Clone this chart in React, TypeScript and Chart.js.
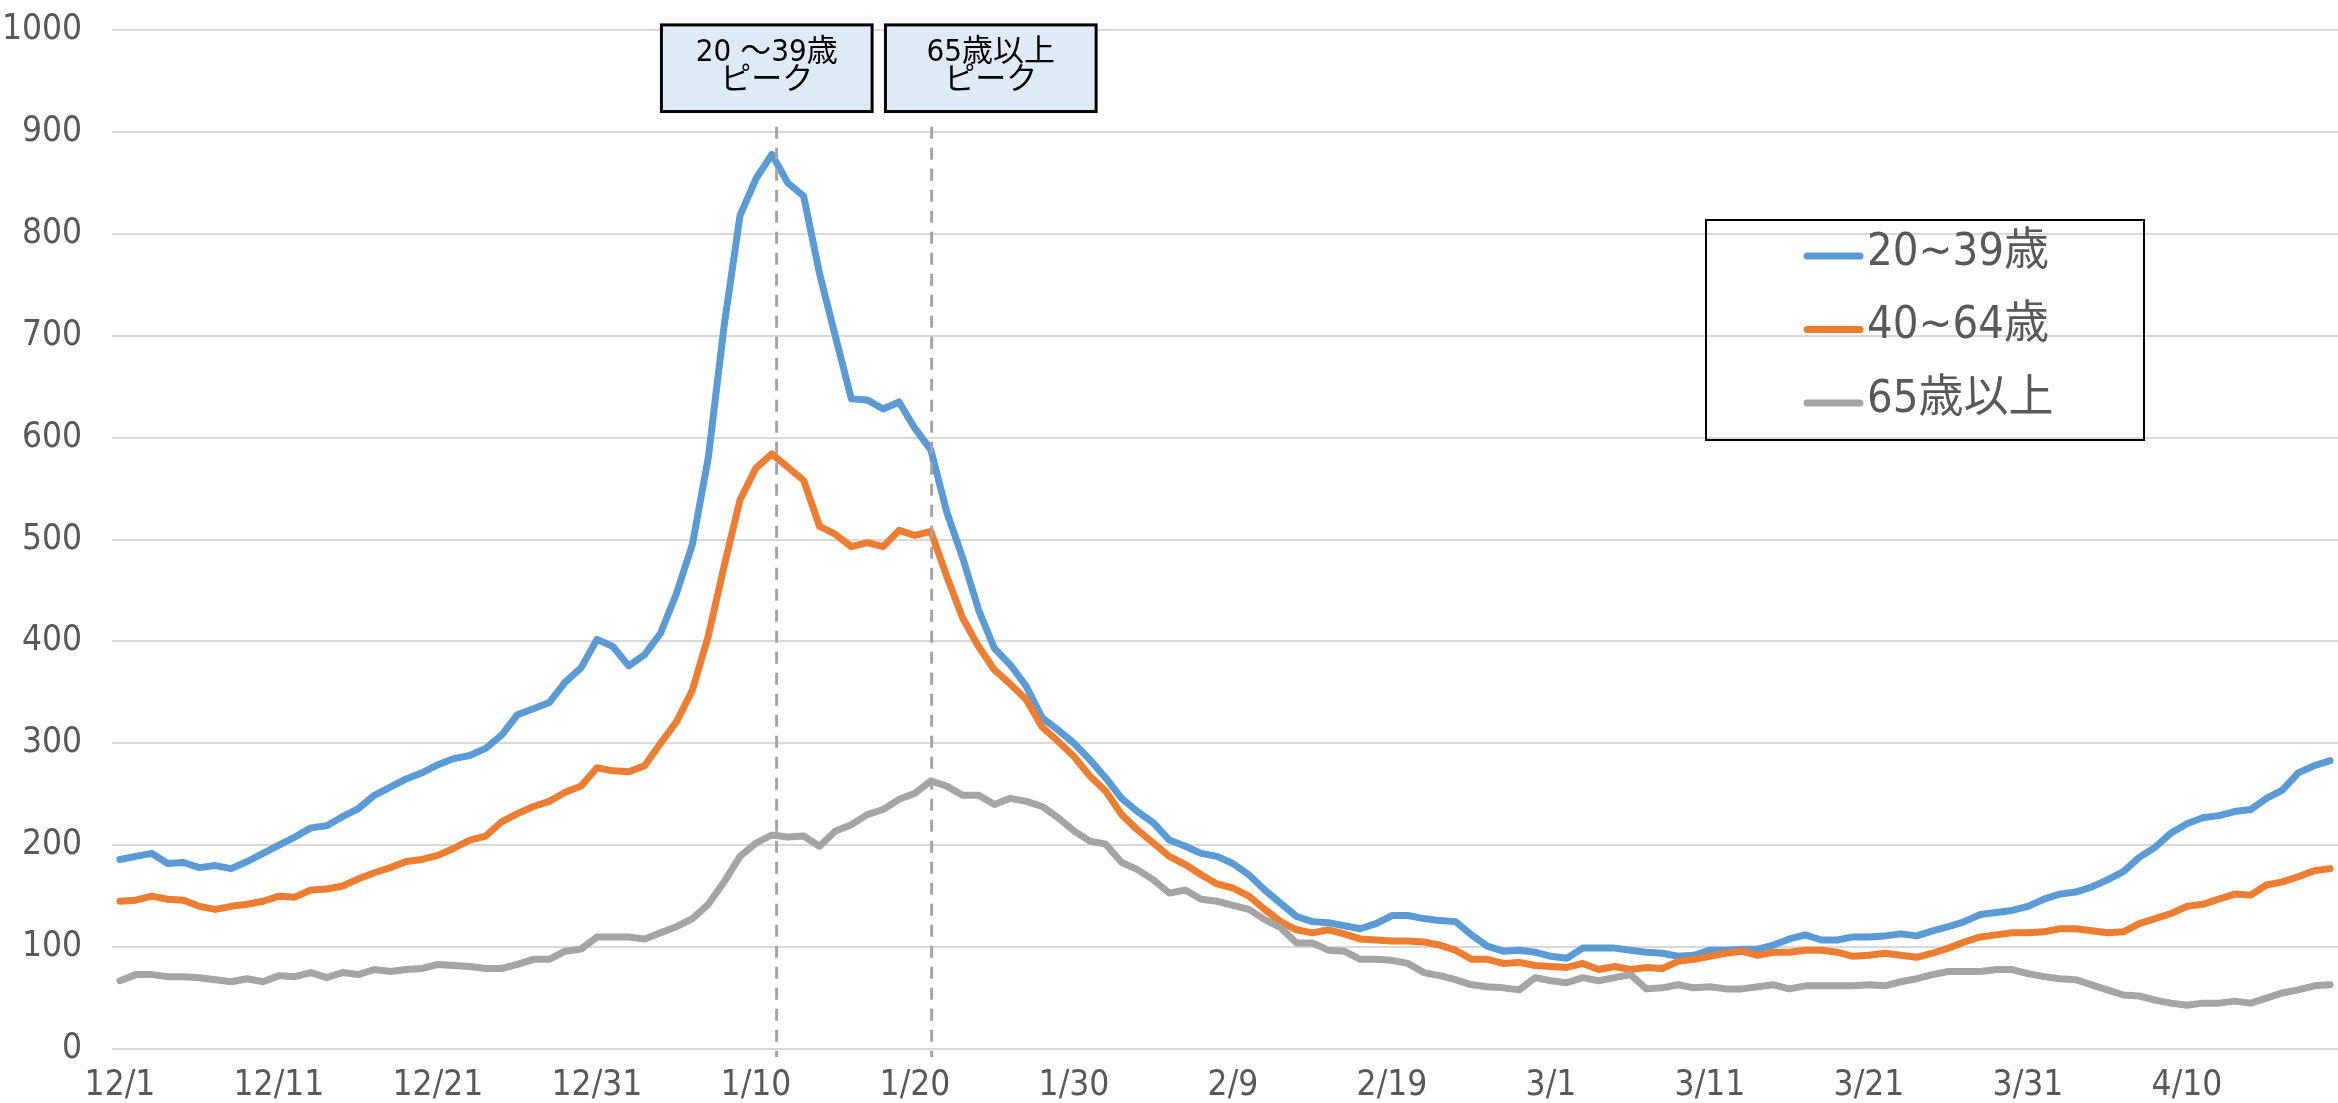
import React, { useEffect, useRef } from "react";
import { Chart, registerables } from "chart.js";

Chart.register(...registerables);

// ---- categories (daily, 12/1 .. 4/19) ----
const MONTHS = [12, 1, 2, 3, 4];
const MONTH_DAYS = [31, 31, 28, 31, 19];
const CATEGORIES: string[] = [];
MONTHS.forEach((m, k) => {
  for (let d = 1; d <= MONTH_DAYS[k]; d++) CATEGORIES.push(`${m}/${d}`);
});

const TICK_LABELS = [
  "12/1", "12/11", "12/21", "12/31", "1/10", "1/20", "1/30",
  "2/9", "2/19", "3/1", "3/11", "3/21", "3/31", "4/10",
];

const Y_MIN = 0;
const Y_MAX = 1000;
const Y_STEP = 100;

// ---- series ----
const AGE_20_39 = [
  186, 189, 192, 182, 183, 178, 180, 177, 184, 192,
  200, 208, 217, 219, 228, 236, 249, 257, 265, 271,
  279, 285, 288, 295, 308, 328, 334, 340, 360, 374,
  402, 395, 376, 387, 408, 447, 495, 580, 710, 818,
  854, 878, 850, 837, 761, 699, 638, 637, 628, 635,
  609, 588, 527, 482, 431, 393, 377, 356, 325, 313,
  300, 284, 266, 246, 233, 222, 205, 199, 192, 189,
  182, 171, 156, 143, 130, 125, 124, 121, 118, 123,
  131, 131, 128, 126, 125, 112, 101, 96, 97, 95,
  91, 89, 99, 99, 99, 97, 95, 94, 91, 92,
  97, 97, 98, 98, 102, 108, 112, 107, 107, 110,
  110, 111, 113, 111, 116, 120, 125, 132, 134, 136,
  140, 147, 152, 154, 159, 166, 174, 188, 198, 212,
  221, 227, 229, 233, 235, 246, 254, 271, 278, 283,
];

const AGE_40_64 = [
  145, 146, 150, 147, 146, 140, 137, 140, 142, 145,
  150, 149, 156, 157, 160, 167, 173, 178, 184, 186,
  190, 197, 205, 209, 223, 231, 238, 243, 252, 258,
  276, 273, 272, 278, 300, 321, 352, 405, 474, 539,
  570, 584, 571, 558, 513, 505, 493, 497, 493, 509,
  504, 508, 464, 423, 395, 372, 358, 343, 316, 302,
  287, 268, 253, 230, 215, 202, 189, 181, 171, 162,
  158, 150, 137, 125, 117, 114, 117, 113, 108, 107,
  106, 106, 105, 102, 97, 88, 88, 84, 85, 82,
  81, 80, 84, 78, 81, 78, 80, 79, 86, 88,
  91, 94, 96, 92, 95, 95, 97, 97, 95, 91,
  92, 94, 92, 90, 94, 99, 105, 110, 112, 114,
  114, 115, 118, 118, 116, 114, 115, 123, 128, 133,
  140, 142, 147, 152, 151, 161, 164, 169, 175, 177,
];

const AGE_65_PLUS = [
  67, 73, 73, 71, 71, 70, 68, 66, 69, 66,
  72, 71, 75, 70, 75, 73, 78, 76, 78, 79,
  83, 82, 81, 79, 79, 83, 88, 88, 96, 98,
  110, 110, 110, 108, 114, 120, 128, 142, 164, 189,
  202, 210, 208, 209, 199, 214, 220, 230, 235, 245,
  251, 263, 258, 249, 249, 240, 246, 243, 238, 227,
  214, 204, 201, 183, 176, 166, 153, 156, 147, 145,
  141, 137, 127, 119, 104, 104, 97, 96, 88, 88,
  87, 84, 75, 72, 68, 63, 61, 60, 58, 70,
  67, 65, 70, 67, 70, 73, 59, 60, 63, 60,
  61, 59, 59, 61, 63, 59, 62, 62, 62, 62,
  63, 62, 66, 69, 73, 76, 76, 76, 78, 78,
  74, 71, 69, 68, 63, 58, 53, 52, 48, 45,
  43, 45, 45, 47, 45, 50, 55, 58, 62, 63,
];

const SERIES_LABELS = ["20~39歳", "40~64歳", "65歳以上"];
const SERIES_COLORS = ["#5B9BD5", "#ED7D31", "#A5A5A5"];

// peak markers (dashed line at a date, label box above)
const PEAK_DATES = ["1/11", "1/21"];
const PEAK_TEXT = [
  ["20 ～39歳", "ピーク"],
  ["65歳以上", "ピーク"],
];

const FONT = '"Liberation Sans Narrow", "DejaVu Sans Condensed", "Noto Sans CJK JP", sans-serif';
const TEXT_GRAY = "#595959";

const peakPlugin = {
  id: "peakMarkers",
  afterDatasetsDraw(chart: any) {
    const { ctx } = chart;
    const xs = chart.scales.x;
    const ys = chart.scales.y;
    const lineOffsets = [0.3, 0.05];
    ctx.save();
    ctx.setLineDash([12, 9]);
    ctx.strokeStyle = "#A5A5A5";
    ctx.lineWidth = 3;
    PEAK_DATES.forEach((d, k) => {
      const x = xs.getPixelForValue(CATEGORIES.indexOf(d) + lineOffsets[k]);
      ctx.beginPath();
      ctx.moveTo(x, ys.getPixelForValue(905));
      ctx.lineTo(x, ys.bottom + 8);
      ctx.stroke();
    });
    ctx.restore();
  },
  afterDraw(chart: any) {
    const { ctx } = chart;
    const xs = chart.scales.x;
    const ys = chart.scales.y;
    const boxOffsets = [-0.32, 3.77];
    const boxDays = 13.25;
    ctx.save();
    PEAK_DATES.forEach((d, k) => {
      const c = CATEGORIES.indexOf(d) + boxOffsets[k];
      const left = xs.getPixelForValue(c - boxDays / 2);
      const right = xs.getPixelForValue(c + boxDays / 2);
      const top = ys.getPixelForValue(1005);
      const bottom = ys.getPixelForValue(920);
      ctx.fillStyle = "#DEEBF7";
      ctx.fillRect(left, top, right - left, bottom - top);
      ctx.strokeStyle = "#000000";
      ctx.lineWidth = 3;
      ctx.setLineDash([]);
      ctx.strokeRect(left, top, right - left, bottom - top);
      ctx.fillStyle = "#000000";
      ctx.font = `31px ${FONT}`;
      ctx.textAlign = "center";
      ctx.textBaseline = "middle";
      const cx = (left + right) / 2;
      ctx.fillText(PEAK_TEXT[k][0], cx, top + 28);
      ctx.fillText(PEAK_TEXT[k][1], cx, top + 56);
    });

    // legend box
    const lx = 1706, ly = 220, lw = 438, lh = 220;
    ctx.strokeStyle = "#000000";
    ctx.lineWidth = 2;
    ctx.strokeRect(lx, ly, lw, lh);
    chart.data.datasets.forEach((ds: any, k: number) => {
      const y = 256 + k * 73.5;
      ctx.strokeStyle = ds.borderColor;
      ctx.lineWidth = 7;
      ctx.lineCap = "round";
      ctx.beginPath();
      ctx.moveTo(1807, y);
      ctx.lineTo(1860, y);
      ctx.stroke();
      ctx.fillStyle = TEXT_GRAY;
      ctx.font = `45px ${FONT}`;
      ctx.textAlign = "left";
      ctx.textBaseline = "middle";
      ctx.fillText(ds.label, 1867, y - 3);
    });
    ctx.restore();
  },
};

export default function App() {
  const ref = useRef<HTMLCanvasElement | null>(null);

  useEffect(() => {
    document.body.style.overflow = "hidden";
    const canvas = ref.current;
    if (!canvas) return;
    const series = [AGE_20_39, AGE_40_64, AGE_65_PLUS];
    const chart = new Chart(canvas, {
      type: "line",
      data: {
        labels: CATEGORIES,
        datasets: series.map((data, k) => ({
          label: SERIES_LABELS[k],
          data,
          borderColor: SERIES_COLORS[k],
          backgroundColor: SERIES_COLORS[k],
          borderWidth: 7,
          pointRadius: 0,
          tension: 0,
          fill: false,
          borderCapStyle: "round",
          borderJoinStyle: "round",
          order: 3 - k,
        })),
      },
      options: {
        responsive: false,
        animation: false,
        devicePixelRatio: 1,
        layout: { padding: { top: 30, right: 0, bottom: 0, left: 0 } },
        plugins: {
          legend: { display: false },
          tooltip: { enabled: false },
          title: { display: false },
        },
        scales: {
          x: {
            type: "category",
            offset: true,
            grid: { display: false, drawTicks: false },
            border: { display: false },
            afterFit: (scale: any) => {
              scale.height = 54;
              scale.paddingLeft = 0;
              scale.paddingRight = 0;
            },
            ticks: {
              autoSkip: false,
              maxRotation: 0,
              minRotation: 0,
              padding: 16,
              color: TEXT_GRAY,
              font: { family: FONT, size: 35 },
              callback: (_v: any, i: number) =>
                TICK_LABELS.includes(CATEGORIES[i]) ? CATEGORIES[i] : "",
            },
          },
          y: {
            min: Y_MIN,
            max: Y_MAX,
            grid: { color: "#D9D9D9", lineWidth: 2, drawTicks: false },
            border: { display: false },
            afterFit: (scale: any) => {
              scale.width = 112;
              scale.paddingTop = 0;
              scale.paddingBottom = 0;
            },
            ticks: {
              stepSize: Y_STEP,
              padding: 30,
              color: TEXT_GRAY,
              font: { family: FONT, size: 35 },
              callback: (v: any) => String(v),
            },
          },
        },
      },
      plugins: [peakPlugin],
    });
    return () => chart.destroy();
  }, []);

  return (
    <div style={{ position: "absolute", left: 0, top: 0, width: 2338, height: 1103, background: "#fff" }}>
      <canvas ref={ref} width={2338} height={1103} style={{ display: "block" }} />
    </div>
  );
}
